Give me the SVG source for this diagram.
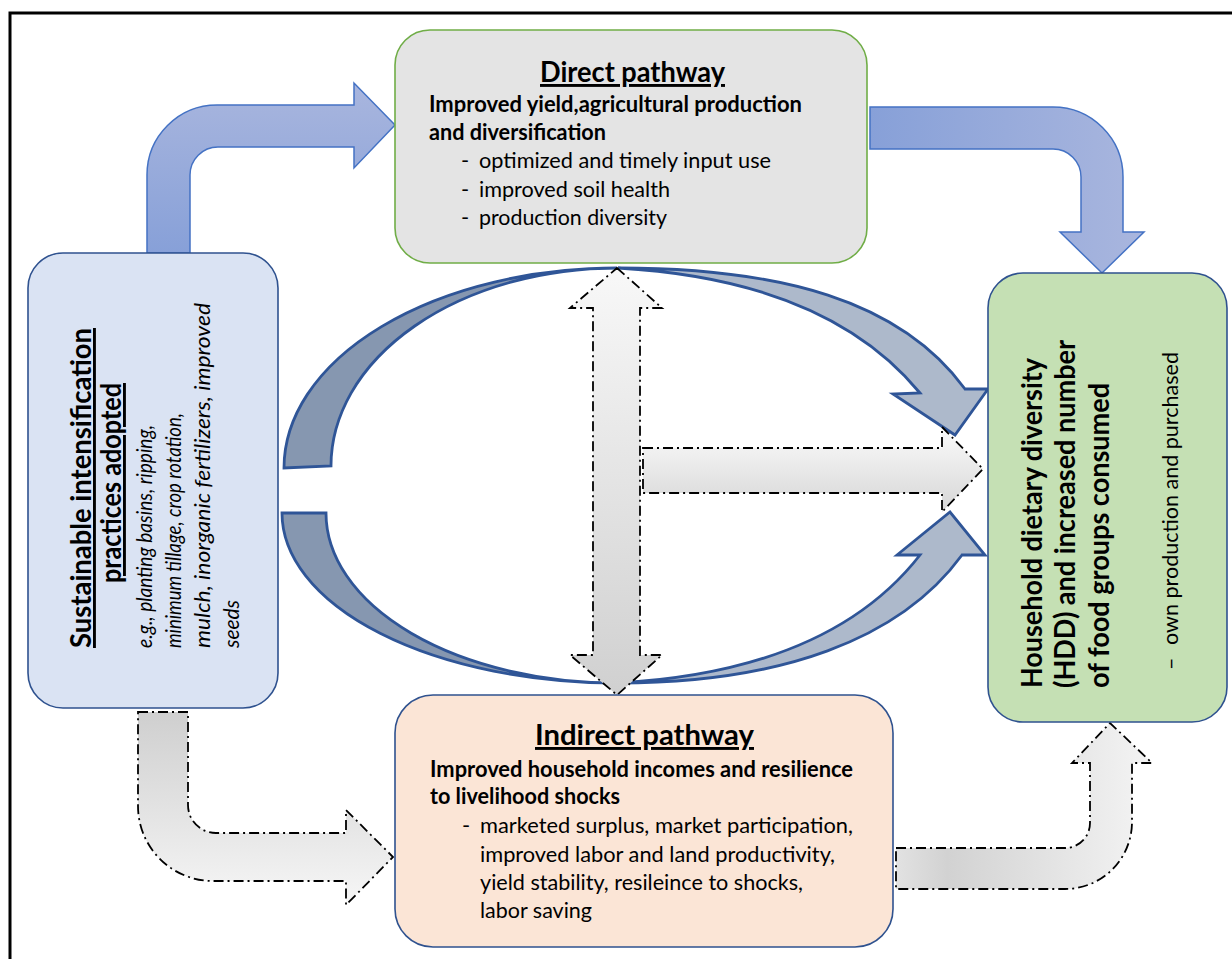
<svg xmlns="http://www.w3.org/2000/svg" width="1232" height="959" viewBox="0 0 1232 959">
  <defs>
    <linearGradient id="blueV" x1="0" y1="0" x2="0" y2="1">
      <stop offset="0" stop-color="#a9b6de"/>
      <stop offset="1" stop-color="#87a0d8"/>
    </linearGradient>
    <linearGradient id="blueH" x1="0" y1="0" x2="1" y2="0">
      <stop offset="0" stop-color="#87a0d8"/>
      <stop offset="1" stop-color="#a9b6de"/>
    </linearGradient>
    <linearGradient id="greyDown" x1="0" y1="0" x2="0" y2="1">
      <stop offset="0" stop-color="#f8f8f8"/>
      <stop offset="1" stop-color="#d0d0d0"/>
    </linearGradient>
    <linearGradient id="greyBand" x1="0" y1="0" x2="0" y2="1">
      <stop offset="0" stop-color="#fbfbfb"/>
      <stop offset="1" stop-color="#d6d6d6"/>
    </linearGradient>
    <linearGradient id="greyUp" x1="0" y1="0" x2="0" y2="1">
      <stop offset="0" stop-color="#cfcfcf"/>
      <stop offset="1" stop-color="#f6f6f6"/>
    </linearGradient>
    <linearGradient id="greyRight" x1="0" y1="0" x2="1" y2="0">
      <stop offset="0" stop-color="#e2e2e2"/>
      <stop offset="0.2" stop-color="#d2d2d2"/>
      <stop offset="1" stop-color="#f4f4f4"/>
    </linearGradient>
  </defs>
  <style>
    .box { stroke-width: 1.6; }
    .t { font-family: Lato, "Liberation Sans", sans-serif; fill: #000; }
    .title { font-size: 29px; font-weight: bold; text-decoration: underline; }
    .head { font-size: 29px; font-weight: bold; }
    .sub { font-size: 22px; font-weight: bold; }
    .body { font-size: 22px; }
    .small { font-size: 21.5px; }
    .ital { font-size: 21px; font-style: italic; }
    .solid { stroke: #4472c4; stroke-width: 1.5; }
    .arc { stroke: #2f5597; stroke-width: 2.8; stroke-linejoin: miter; }
    .dash { stroke: #000; stroke-width: 1.8; stroke-dasharray: 10 4 2 4; }
  </style>

  <rect x="10" y="13" width="1240" height="970" fill="none" stroke="#000" stroke-width="3"/>

  <g id="connectors">
    <!-- bent arrow: practices to direct pathway -->
    <path class="solid" fill="url(#blueV)" d="M147,253 L147,175 A70,70 0 0 1 217,105 L354,105 L354,83 L395,125 L354,168 L354,147 L218,147 A28,28 0 0 0 190,175 L190,253 Z"/>
    <!-- bent arrow: direct pathway to dietary diversity -->
    <path class="solid" fill="url(#blueH)" d="M870,107 L1053,107 A70,70 0 0 1 1123,177 L1123,232 L1144,232 L1102,273 L1060,232 L1081,232 L1081,177 A28,28 0 0 0 1053,149 L870,149 Z"/>
    <!-- crescent arcs on the left -->
    <path class="arc" fill="#8697b0" d="M284,468 A333,200 0 0 1 617,268 A286,198 0 0 0 331,466 Z"/>
    <path class="arc" fill="#8697b0" d="M282,513 A335,170 0 0 0 617,683 A291,170 0 0 1 326,513 Z"/>
    <!-- curved arrows on the right -->
    <path class="arc" fill="#adb9cb" d="M618,268 C780,268 900,300 965,389 L988,389 L955,435 L893,394 L920,393 C860,320 760,276 618,268 Z"/>
    <path class="arc" fill="#adb9cb" d="M618,683 C780,683 900,640 962,555 L985,555 L950,512 L897,555 L920,555 C860,632 760,675 618,683 Z"/>
    <!-- dotted double arrow between the pathways -->
    <path class="dash" fill="url(#greyDown)" d="M617,268 L662,308 L640,308 L640,655 L662,655 L617,695 L570,655 L593,655 L593,308 L570,308 Z"/>
    <!-- dotted arrow to dietary diversity -->
    <path class="dash" fill="url(#greyBand)" d="M643,448 L942,448 L942,427 L983,469 L942,512 L942,493 L643,493 Z"/>
    <!-- dotted bent arrow: practices to indirect pathway -->
    <path class="dash" fill="url(#greyUp)" d="M138,712 L188,712 L188,805 A28,28 0 0 0 216,833 L346,833 L346,810 L393,857 L346,905 L346,881 L213,881 A75,75 0 0 1 138,806 Z"/>
    <!-- dotted bent arrow: indirect pathway to dietary diversity -->
    <path class="dash" fill="url(#greyRight)" d="M896,848 L1065,848 A25,25 0 0 0 1090,823 L1090,763 L1072,763 L1110,723 L1152,763 L1132,763 L1132,822 A67,67 0 0 1 1065,889 L896,889 Z"/>
  </g>

  <g id="practices">
    <rect class="box" x="28" y="253" width="250" height="455" rx="35" fill="#dae3f3" stroke="#2f528f"/>
    <text class="t title" text-anchor="middle" transform="translate(91,488) rotate(-90)" textLength="320" lengthAdjust="spacingAndGlyphs">Sustainable intensification</text>
    <text class="t title" text-anchor="middle" transform="translate(121,483) rotate(-90)" textLength="200" lengthAdjust="spacingAndGlyphs">practices adopted</text>
    <text class="t ital" transform="translate(152,648) rotate(-90)" textLength="223" lengthAdjust="spacingAndGlyphs">e.g., planting basins, ripping,</text>
    <text class="t ital" transform="translate(181,648) rotate(-90)" textLength="235" lengthAdjust="spacingAndGlyphs">minimum tillage, crop rotation,</text>
    <text class="t ital" transform="translate(210,648) rotate(-90)" textLength="345" lengthAdjust="spacingAndGlyphs">mulch, inorganic fertilizers, improved</text>
    <text class="t ital" transform="translate(239,648) rotate(-90)" textLength="48" lengthAdjust="spacingAndGlyphs">seeds</text>
  </g>

  <g id="direct">
    <rect class="box" x="395" y="30" width="472" height="233" rx="35" fill="#e4e4e4" stroke="#70ad47"/>
    <text class="t title" x="540" y="82" textLength="185" lengthAdjust="spacingAndGlyphs">Direct pathway</text>
    <text class="t sub" x="429" y="112" textLength="373" lengthAdjust="spacingAndGlyphs">Improved yield,agricultural production</text>
    <text class="t sub" x="429" y="140" textLength="177" lengthAdjust="spacingAndGlyphs">and diversification</text>
    <text class="t body" x="461" y="168">-</text>
    <text class="t body" x="479" y="168" textLength="292" lengthAdjust="spacingAndGlyphs">optimized and timely input use</text>
    <text class="t body" x="461" y="197">-</text>
    <text class="t body" x="479" y="197" textLength="191" lengthAdjust="spacingAndGlyphs">improved soil health</text>
    <text class="t body" x="461" y="225">-</text>
    <text class="t body" x="479" y="225" textLength="188" lengthAdjust="spacingAndGlyphs">production diversity</text>
  </g>

  <g id="indirect">
    <rect class="box" x="395" y="695" width="498" height="252" rx="38" fill="#fbe5d6" stroke="#2f528f"/>
    <text class="t title" x="535" y="745" textLength="219" lengthAdjust="spacingAndGlyphs">Indirect pathway</text>
    <text class="t sub" x="430" y="777" textLength="423" lengthAdjust="spacingAndGlyphs">Improved household incomes and resilience</text>
    <text class="t sub" x="430" y="804" textLength="190" lengthAdjust="spacingAndGlyphs">to livelihood shocks</text>
    <text class="t body" x="462" y="833">-</text>
    <text class="t body" x="480" y="833" textLength="373" lengthAdjust="spacingAndGlyphs">marketed surplus, market participation,</text>
    <text class="t body" x="480" y="862" textLength="355" lengthAdjust="spacingAndGlyphs">improved labor and land productivity,</text>
    <text class="t body" x="480" y="890" textLength="323" lengthAdjust="spacingAndGlyphs">yield stability, resileince to shocks,</text>
    <text class="t body" x="480" y="918" textLength="112" lengthAdjust="spacingAndGlyphs">labor saving</text>
  </g>

  <g id="diversity">
    <rect class="box" x="988" y="273" width="239" height="449" rx="35" fill="#c5e0b4" stroke="#2f528f"/>
    <text class="t head" transform="translate(1042,688) rotate(-90)" textLength="330" lengthAdjust="spacingAndGlyphs">Household dietary diversity</text>
    <text class="t head" transform="translate(1075,688) rotate(-90)" textLength="348" lengthAdjust="spacingAndGlyphs">(HDD) and increased number</text>
    <text class="t head" transform="translate(1109,688) rotate(-90)" textLength="305" lengthAdjust="spacingAndGlyphs">of food groups consumed</text>
    <text class="t small" transform="translate(1178,670) rotate(-90)">–</text>
    <text class="t small" transform="translate(1178,645) rotate(-90)" textLength="293" lengthAdjust="spacingAndGlyphs">own production and purchased</text>
  </g>
</svg>
